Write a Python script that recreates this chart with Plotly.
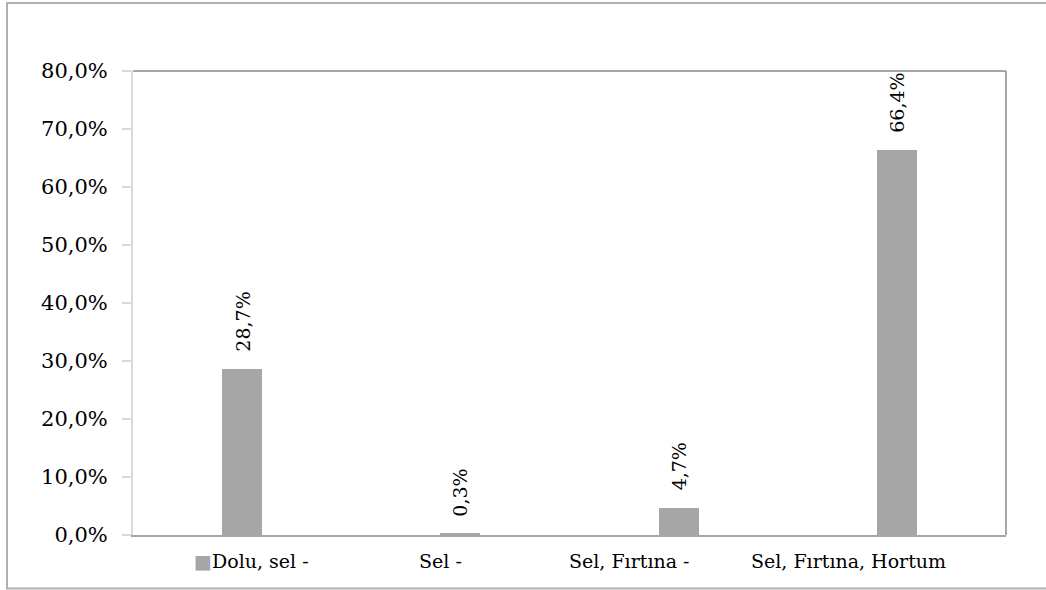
import plotly.graph_objects as go

# Event combinations and their share of all records (%)
categories = ["Dolu, sel -", "Sel -", "Sel, Fırtına -", "Sel, Fırtına, Hortum"]
shares = [28.7, 0.3, 4.7, 66.4]
value_labels = ["28,7%", "0,3%", "4,7%", "66,4%"]

y_ticks = [0, 10, 20, 30, 40, 50, 60, 70, 80]
y_tick_text = ["0,0%", "10,0%", "20,0%", "30,0%", "40,0%", "50,0%", "60,0%", "70,0%", "80,0%"]

# Page geometry (pixels)
W, H = 1046, 590
ML, MR, MT, MB = 133, 40, 71, 55
PW, PH = W - ML - MR, H - MT - MB

BAR = "#a6a6a6"
FONT = "DejaVu Serif"


def fx(px):
    return (px - ML) / PW


def fy(py):
    return (H - MB - py) / PH


fig = go.Figure(
    go.Bar(
        x=categories,
        y=shares,
        marker=dict(color=BAR, line=dict(width=0)),
        width=0.184,
        hoverinfo="skip",
    )
)

annotations = []
# Rotated value labels above each bar
for cat, val, lab in zip(categories, shares, value_labels):
    annotations.append(dict(
        x=cat, y=val, xref="x", yref="y", text=lab, showarrow=False,
        textangle=-90, xanchor="center", yanchor="bottom", yshift=15,
        font=dict(family=FONT, size=19, color="black"),
    ))

# Category captions under the axis (centres in px)
caption_center = [251, 440, 629, 848]
for i, (cat, cx) in enumerate(zip(categories, caption_center)):
    txt = cat
    if i == 0:
        txt = f"<span style='color:{BAR};font-size:19px'>■</span>" + cat
    annotations.append(dict(
        x=fx(cx), y=fy(561), xref="paper", yref="paper", text=txt,
        showarrow=False, xanchor="center", yanchor="middle",
        font=dict(family=FONT, size=19, color="black"),
    ))

shapes = [
    # outer chart frame
    dict(type="rect", xref="paper", yref="paper",
         x0=fx(7), x1=fx(1070), y0=fy(588.5), y1=fy(3),
         line=dict(color="#b0b0b0", width=2), layer="below"),
    # plot-area border (top and right)
    dict(type="line", xref="paper", yref="paper", x0=0, x1=1, y0=1, y1=1,
         line=dict(color="#a6a6a6", width=2)),
    dict(type="line", xref="paper", yref="paper", x0=1, x1=1, y0=0, y1=1,
         line=dict(color="#a6a6a6", width=2)),
]

fig.update_layout(
    width=W, height=H,
    margin=dict(l=ML, r=MR, t=MT, b=MB, pad=0),
    paper_bgcolor="white", plot_bgcolor="white",
    showlegend=False,
    bargap=0,
    annotations=annotations,
    shapes=shapes,
    font=dict(family=FONT, size=21, color="black"),
    xaxis=dict(
        showticklabels=False, ticks="", showgrid=False, zeroline=False,
        showline=True, linecolor="#a6a6a6", linewidth=2,
        range=[-0.5, 3.5], fixedrange=True,
    ),
    yaxis=dict(
        range=[0, 80], tickvals=y_ticks, ticktext=y_tick_text,
        ticks="outside", ticklen=9, tickwidth=2, tickcolor="#d9d9d9",
        showline=True, linecolor="#d9d9d9", linewidth=2,
        showgrid=False, zeroline=False, fixedrange=True,
        tickfont=dict(family=FONT, size=21, color="black"),
        ticklabelstandoff=10,
    ),
)

fig.write_html("out.html", config={"displayModeBar": False})
